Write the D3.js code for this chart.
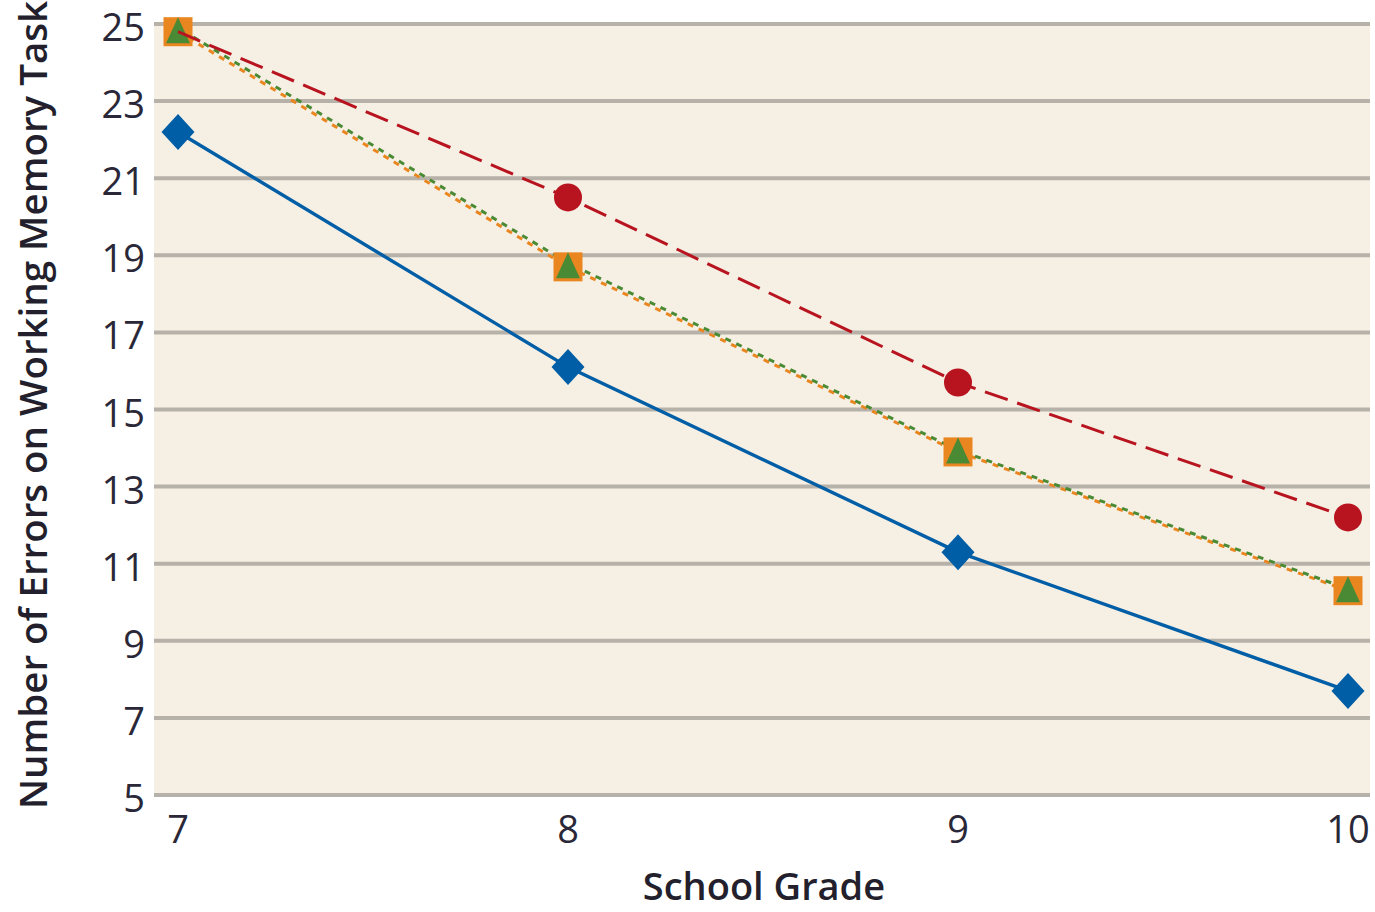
<!DOCTYPE html>
<html><head><meta charset="utf-8">
<script src="https://cdn.jsdelivr.net/npm/d3@7"></script>
<style>body{margin:0;background:#fff}svg{display:block}</style>
</head><body>
<script>
const grades = [7, 8, 9, 10];
const yTicks = [5, 7, 9, 11, 13, 15, 17, 19, 21, 23, 25];
const blueValues = [22.2, 16.1, 11.3, 7.7];
const redValues = [24.8, 20.5, 15.7, 12.2];
const orangeValues = [24.8, 18.7, 13.9, 10.3];
const greenValues = [24.9, 18.8, 13.95, 10.35];
const xTitle = "School Grade";
const yTitle = "Number of Errors on Working Memory Task";

const W = 1375, H = 912;
const plot = {left: 154, right: 1370, top: 24, bottom: 795};
const svg = d3.select("body").append("svg").attr("width", W).attr("height", H);

const x = d3.scaleLinear().domain([7, 10]).range([178, 1348]);
const y = d3.scaleLinear().domain([5, 25]).range([plot.bottom, plot.top]);

svg.append("rect").attr("x", plot.left).attr("y", plot.top - 2)
  .attr("width", plot.right - plot.left).attr("height", plot.bottom - plot.top + 4)
  .attr("fill", "#f6efe4");

svg.append("g").selectAll("line").data(yTicks).join("line")
  .attr("x1", plot.left).attr("x2", plot.right)
  .attr("y1", d => y(d)).attr("y2", d => y(d))
  .attr("stroke", "#b6b1a9").attr("stroke-width", 4);

const font = "'Open Sans', sans-serif";
const textColor = "#2a2838";
svg.append("g").selectAll("text").data(yTicks).join("text")
  .attr("x", 145).attr("y", d => y(d) + 17)
  .attr("text-anchor", "end").attr("font-family", font).attr("font-size", 38)
  .attr("fill", textColor).text(d => d);

svg.append("g").selectAll("text").data(grades).join("text")
  .attr("x", d => x(d)).attr("y", 843)
  .attr("text-anchor", "middle").attr("font-family", font).attr("font-size", 38)
  .attr("fill", textColor).text(d => d);

svg.append("text").attr("x", 764).attr("y", 900)
  .attr("text-anchor", "middle").attr("font-family", font).attr("font-size", 38)
  .attr("font-weight", 600).attr("fill", "#231f2c").text(xTitle);

svg.append("text").attr("transform", `translate(47,405) rotate(-90)`)
  .attr("text-anchor", "middle").attr("font-family", font).attr("font-size", 38.5)
  .attr("font-weight", 600).attr("fill", "#231f2c").text(yTitle);

const line = d3.line().x((d, i) => x(grades[i])).y(d => y(d));

// red markers drawn first so the one at grade 7 is hidden beneath the square
svg.append("g").selectAll("circle").data(redValues).join("circle")
  .attr("cx", (d, i) => x(grades[i])).attr("cy", d => y(d)).attr("r", 14)
  .attr("fill", "#b8141f");

const diamond = {draw(ctx) { ctx.moveTo(0, -18); ctx.lineTo(16.5, 0); ctx.lineTo(0, 18); ctx.lineTo(-16.5, 0); ctx.closePath(); }};
const tri = {draw(ctx) { ctx.moveTo(0, -14.5); ctx.lineTo(12, 11.5); ctx.lineTo(-12, 11.5); ctx.closePath(); }};

const series = [
  {vals: blueValues, color: "#005ea6", dash: null, width: 3.4},
  {vals: orangeValues, color: "#ea861f", dash: "6,6", offset: 0, width: 3},
  {vals: greenValues, color: "#4b8a34", dash: "6,6", offset: 6, width: 3},
];
series.forEach(s => {
  svg.append("path").datum(s.vals).attr("d", line)
    .attr("fill", "none").attr("stroke", s.color).attr("stroke-width", s.width)
    .attr("stroke-dasharray", s.dash).attr("stroke-dashoffset", s.offset || 0);
});

svg.append("g").selectAll("path").data(blueValues).join("path")
  .attr("transform", (d, i) => `translate(${x(grades[i])},${y(d)})`)
  .attr("d", d3.symbol().type(diamond)).attr("fill", "#005ea6");
svg.append("g").selectAll("rect").data(orangeValues).join("rect")
  .attr("x", (d, i) => x(grades[i]) - 14.5).attr("y", d => y(d) - 14.5)
  .attr("width", 29).attr("height", 29).attr("fill", "#ea861f");
svg.append("g").selectAll("path").data(greenValues).join("path")
  .attr("transform", (d, i) => `translate(${x(grades[i])},${y(orangeValues[i])})`)
  .attr("d", d3.symbol().type(tri)).attr("fill", "#4b8a34");

svg.append("path").datum(redValues).attr("d", line)
  .attr("fill", "none").attr("stroke", "#b8141f").attr("stroke-width", 3)
  .attr("stroke-dasharray", "24,10");
</script>
</body></html>
